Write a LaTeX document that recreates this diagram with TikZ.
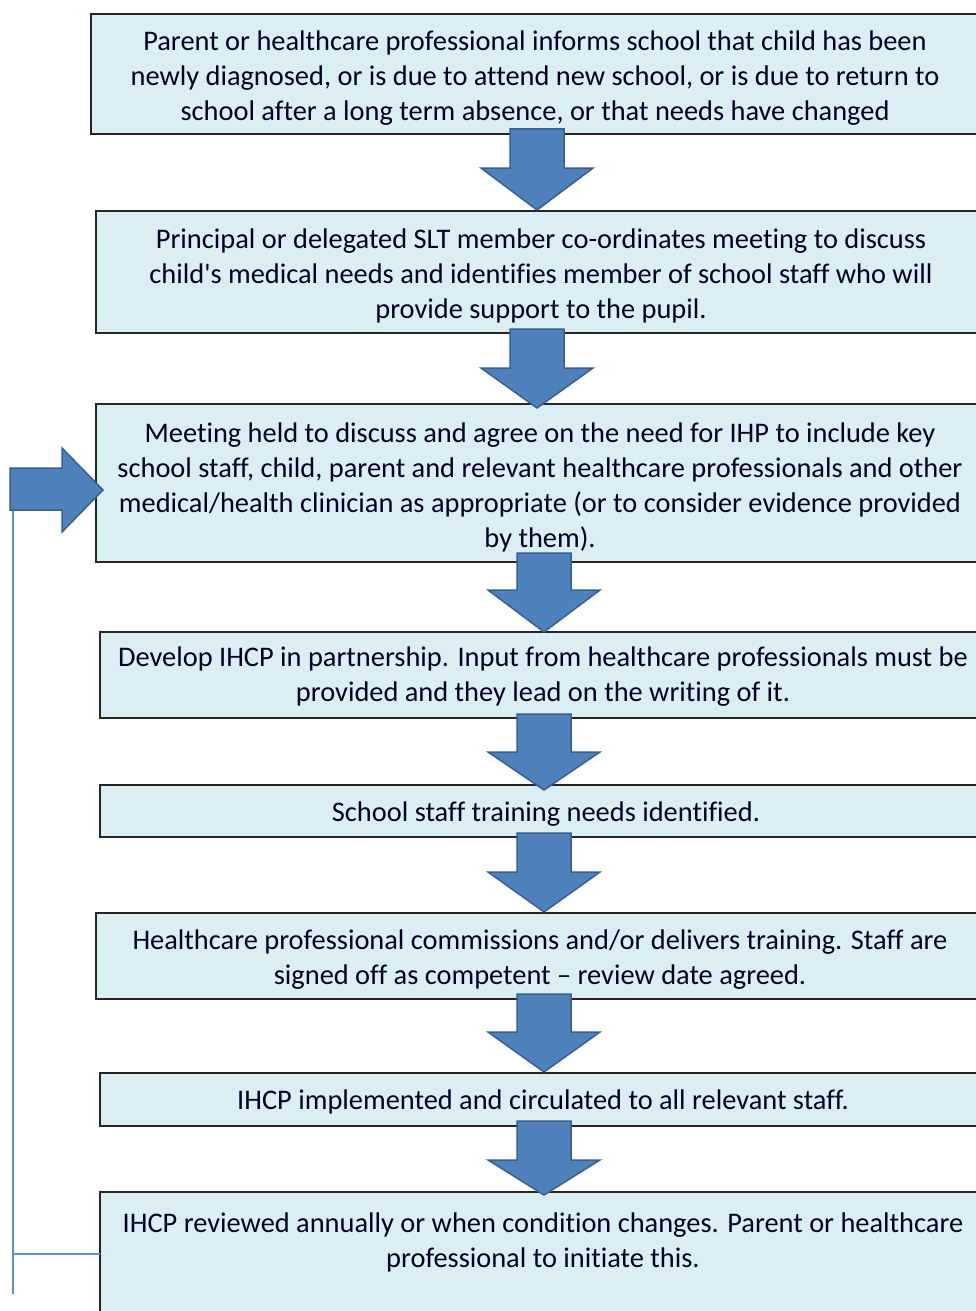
\documentclass[tikz,border=0pt]{standalone}
\usepackage{fontspec}
\setmainfont[Ligatures={NoCommon,TeX}]{Carlito}
\definecolor{boxfill}{HTML}{DAEEF3}
\definecolor{arrfill}{HTML}{4F81BD}
\definecolor{arrline}{HTML}{3A5F8E}
\definecolor{fbline}{HTML}{5B8ED6}
\begin{document}
\begin{tikzpicture}[x=1pt,y=-1pt,
  box/.style={draw=black!85,line width=1.3pt,fill=boxfill},
  txt/.style={align=center,font=\fontsize{28.4}{35}\selectfont,text=black!85!blue,inner sep=0pt},
  barrow/.style={fill=arrfill,draw=arrline,line width=1.5pt,line join=miter}]
\useasboundingbox (0,0) rectangle (976,1311);
\clip (0,0) rectangle (976,1311);
\fill[white] (0,0) rectangle (976,1311);
% boxes
\draw[box] (91,14) rectangle (1000,134);
\draw[box] (96,211) rectangle (1000,333);
\draw[box] (96,404) rectangle (1000,562);
\draw[box] (100,632) rectangle (1000,718);
\draw[box] (100,785) rectangle (1000,837);
\draw[box] (96,913) rectangle (1000,999);
\draw[box] (100,1073) rectangle (1000,1126);
\draw[box] (100,1192) rectangle (1000,1330);
% texts
\node[txt] (t1) at (535,78) {Parent or healthcare professional informs school that child has been\\newly diagnosed, or is due to attend new school, or is due to return to\\school after a long term absence, or that needs have changed};
\node[txt] (t2) at (541,276) {Principal or delegated SLT member co-ordinates meeting to discuss\\child\textquotesingle s medical needs and identifies member of school staff who will\\provide support to the pupil.};
\node[txt] (t3) at (540,487) {Meeting held to discuss and agree on the need for IHP to include key\\school staff, child, parent and relevant healthcare professionals and other\\medical/health clinician as appropriate (or to consider evidence provided\\by them).};
\node[txt] (t4) at (543,677) {Develop IHCP in partnership. Input from healthcare professionals must be\\provided and they lead on the writing of it.};
\node[txt] (t5) at (546,814) {School staff training needs identified.};
\node[txt] (t6) at (540,960) {Healthcare professional commissions and/or delivers training. Staff are\\signed off as competent -- review date agreed.};
\node[txt] (t7) at (543,1102) {IHCP implemented and circulated to all relevant staff.};
\node[txt] (t8) at (543,1242) {IHCP reviewed annually or when condition changes. Parent or healthcare\\professional to initiate this.};
% block arrows
\newcommand{\downarr}[4]{% cx, top, headY, tip
  \draw[barrow] (#1-27,#2) -- (#1+27,#2) -- (#1+27,#3) -- (#1+56,#3) -- (#1,#4) -- (#1-56,#3) -- (#1-27,#3) -- cycle;}
\downarr{537}{129}{168}{210}
\downarr{537}{329}{368}{408}
\downarr{544}{553}{590}{632}
\downarr{544}{714}{752}{790}
\downarr{544}{833}{872}{912}
\downarr{544}{994}{1032}{1072}
\downarr{544}{1121}{1160}{1195}
% feedback
\coordinate (fb0) at (100,1254);
\coordinate (fb1) at (13,1254);
\coordinate (fb2) at (13,1294);
\coordinate (fb3) at (13,505);
\draw[fbline,line width=1.5pt] (fb0) -- (fb1);
\draw[fbline,line width=1.5pt] (fb2) -- (fb3);
\draw[barrow] (10,468) -- (62,468) -- (62,448) -- (103,490) -- (62,532) -- (62,510) -- (10,510) -- cycle;
\end{tikzpicture}
\end{document}
